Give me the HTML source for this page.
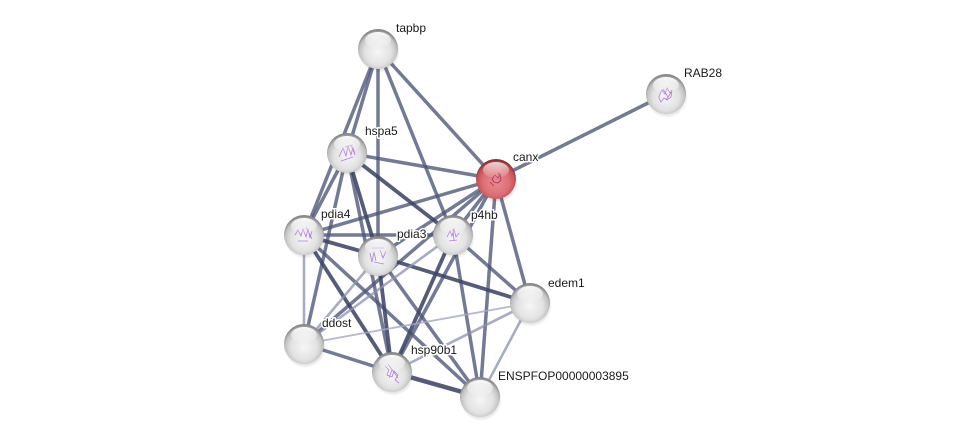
<!DOCTYPE html>
<html><head><meta charset="utf-8"><style>
html,body{margin:0;padding:0;background:#fff;}
svg{display:block;}
text{font-family:"Liberation Sans",sans-serif;font-size:12px;fill:#1a1a1a;paint-order:stroke;stroke:#fff;stroke-width:3px;stroke-linejoin:round;}
.s{fill:none;stroke:#b37ddd;stroke-width:0.8;}
</style></head><body>
<svg width="976" height="443" viewBox="0 0 976 443" xmlns="http://www.w3.org/2000/svg">
<defs>
<radialGradient id="g" cx="50%" cy="58%" r="55%">
<stop offset="0" stop-color="#f6f6f6"/>
<stop offset="0.6" stop-color="#e2e2e2"/>
<stop offset="0.85" stop-color="#c2c2c2"/>
<stop offset="1" stop-color="#868686"/>
</radialGradient>
<radialGradient id="r" cx="50%" cy="58%" r="55%">
<stop offset="0" stop-color="#e88c8e"/>
<stop offset="0.6" stop-color="#dc7074"/>
<stop offset="0.85" stop-color="#c45458"/>
<stop offset="1" stop-color="#8e3034"/>
</radialGradient>
<linearGradient id="hl" x1="0" y1="0" x2="0" y2="1">
<stop offset="0" stop-color="#fff" stop-opacity="0.95"/>
<stop offset="1" stop-color="#fff" stop-opacity="0.05"/>
</linearGradient>
<radialGradient id="sh" cx="50%" cy="50%" r="50%">
<stop offset="0.7" stop-color="#000" stop-opacity="0.18"/>
<stop offset="1" stop-color="#000" stop-opacity="0"/>
</radialGradient>
</defs>

<g stroke-linecap="butt" fill="none">
<g stroke="#4c5578" stroke-width="3.5" stroke-opacity="0.78">
<line x1="496" y1="179" x2="666" y2="94"/>
<line x1="378" y1="49" x2="347" y2="153"/>
<line x1="378" y1="49" x2="304" y2="235"/>
<line x1="378" y1="49" x2="378" y2="256"/>
<line x1="378" y1="49" x2="453" y2="235"/>
<line x1="378" y1="49" x2="496" y2="179"/>
<line x1="347" y1="153" x2="496" y2="179"/>
<line x1="347" y1="153" x2="304" y2="235"/>
<line x1="347" y1="153" x2="304" y2="344"/>
<line x1="347" y1="153" x2="392" y2="372"/>
<line x1="496" y1="179" x2="304" y2="235"/>
<line x1="496" y1="179" x2="378" y2="256"/>
<line x1="496" y1="179" x2="453" y2="235"/>
<line x1="496" y1="179" x2="304" y2="344"/>
<line x1="496" y1="179" x2="392" y2="372"/>
<line x1="496" y1="179" x2="530" y2="303"/>
<line x1="496" y1="179" x2="480" y2="397"/>
<line x1="304" y1="235" x2="453" y2="235"/>
<line x1="304" y1="235" x2="480" y2="397"/>
<line x1="378" y1="256" x2="480" y2="397"/>
<line x1="453" y1="235" x2="480" y2="397"/>
<line x1="453" y1="235" x2="530" y2="303"/>
<line x1="304" y1="344" x2="392" y2="372"/>
</g>
<g stroke="#3e4668" stroke-width="3.8" stroke-opacity="0.88">
<line x1="347" y1="153" x2="378" y2="256"/>
<line x1="347" y1="153" x2="453" y2="235"/>
<line x1="304" y1="235" x2="378" y2="256"/>
<line x1="304" y1="235" x2="392" y2="372"/>
<line x1="378" y1="256" x2="530" y2="303"/>
<line x1="378" y1="256" x2="392" y2="372"/>
<line x1="453" y1="235" x2="392" y2="372"/>
<line x1="392" y1="372" x2="480" y2="397" stroke-width="4.5"/>
</g>
<g stroke="#8990ad" stroke-width="2.6" stroke-opacity="0.75">
<line x1="304" y1="235" x2="304" y2="344"/>
<line x1="378" y1="256" x2="304" y2="344"/>
<line x1="453" y1="235" x2="304" y2="344"/>
<line x1="392" y1="372" x2="530" y2="303"/>
<line x1="530" y1="303" x2="480" y2="397"/>
</g>
<line x1="304" y1="344" x2="530" y2="303" stroke="#a2a8c0" stroke-width="1.8" stroke-opacity="0.8"/>
</g>

<g>
<g transform="translate(378,49)"><ellipse cx="1" cy="3" rx="21" ry="21" fill="url(#sh)"/><circle r="20" fill="url(#g)"/><ellipse cx="0" cy="-9" rx="13" ry="8" fill="url(#hl)"/></g>
<g transform="translate(666,94)"><ellipse cx="1" cy="3" rx="21" ry="21" fill="url(#sh)"/><circle r="20" fill="url(#g)"/><path class="s" d="M-7 2 l3-6 3 4 2-6 3 5 2-3 -1 7 -4 3 -3-2 -3 4 -2-4z M-3 -5 l5 8 M0 6 l6-9"/><ellipse cx="0" cy="-9" rx="13" ry="8" fill="url(#hl)"/></g>
<g transform="translate(347,153)"><ellipse cx="1" cy="3" rx="21" ry="21" fill="url(#sh)"/><circle r="20" fill="url(#g)"/><path class="s" d="M-8 4 l4-9 3 8 2-10 3 9 2-8 2 8 M-2 -6 l8 -2 M-6 8 l12-4 M4 -8 l4 10"/><ellipse cx="0" cy="-9" rx="13" ry="8" fill="url(#hl)"/></g>
<g transform="translate(496,179)"><ellipse cx="1" cy="3" rx="21" ry="21" fill="url(#sh)"/><circle r="20" fill="url(#r)"/><path d="M-4 0 l3-4 3 3 2-4 1 6 -3 3 -4-1z M-6 3 l4 4 M2 -6 l3 5" fill="none" stroke="#b02a5a" stroke-width="0.8"/><ellipse cx="0" cy="-9" rx="13" ry="8" fill="url(#hl)" opacity="0.8"/></g>
<g transform="translate(304,235)"><ellipse cx="1" cy="3" rx="21" ry="21" fill="url(#sh)"/><circle r="20" fill="url(#g)"/><path class="s" d="M-9 0 l3-5 3 6 2-7 3 8 2-8 2 9 2-7 M-6 6 l10 0 M2 -8 l6 12"/><ellipse cx="0" cy="-9" rx="13" ry="8" fill="url(#hl)"/></g>
<g transform="translate(378,256)"><ellipse cx="1" cy="3" rx="21" ry="21" fill="url(#sh)"/><circle r="20" fill="url(#g)"/><path class="s" d="M-8 -3 l2 9 2-10 2 9 M2 -6 l3 8 3-7 M-4 6 l10 2 M-6 -8 l12 0"/><ellipse cx="0" cy="-9" rx="13" ry="8" fill="url(#hl)"/></g>
<g transform="translate(453,235)"><ellipse cx="1" cy="3" rx="21" ry="21" fill="url(#sh)"/><circle r="20" fill="url(#g)"/><path class="s" d="M-6 2 l3-6 2 5 2-7 2 8 3-4 M-4 6 l8-1 M0 -6 l1 12"/><ellipse cx="0" cy="-9" rx="13" ry="8" fill="url(#hl)"/></g>
<g transform="translate(530,303)"><ellipse cx="1" cy="3" rx="21" ry="21" fill="url(#sh)"/><circle r="20" fill="url(#g)"/><ellipse cx="0" cy="-9" rx="13" ry="8" fill="url(#hl)"/></g>
<g transform="translate(304,344)"><ellipse cx="1" cy="3" rx="21" ry="21" fill="url(#sh)"/><circle r="20" fill="url(#g)"/><ellipse cx="0" cy="-9" rx="13" ry="8" fill="url(#hl)"/></g>
<g transform="translate(392,372)"><ellipse cx="1" cy="3" rx="21" ry="21" fill="url(#sh)"/><circle r="20" fill="url(#g)"/><path class="s" d="M-7 -6 l4 4 -2 5 5 2 2-6 4 4 -3 5 4 3 M-4 -8 l10 14 M0 -2 l-3 8"/><ellipse cx="0" cy="-9" rx="13" ry="8" fill="url(#hl)"/></g>
<g transform="translate(480,397)"><ellipse cx="1" cy="3" rx="21" ry="21" fill="url(#sh)"/><circle r="20" fill="url(#g)"/><ellipse cx="0" cy="-9" rx="13" ry="8" fill="url(#hl)"/></g>
</g>

<g>
<text x="396" y="32">tapbp</text>
<text x="684" y="77">RAB28</text>
<text x="365" y="135">hspa5</text>
<text x="513" y="161">canx</text>
<text x="321" y="218">pdia4</text>
<text x="397" y="238">pdia3</text>
<text x="471" y="219">p4hb</text>
<text x="548" y="287">edem1</text>
<text x="322" y="327">ddost</text>
<text x="411" y="354">hsp90b1</text>
<text x="498" y="380">ENSPFOP00000003895</text>
</g>
</svg>
</body></html>
